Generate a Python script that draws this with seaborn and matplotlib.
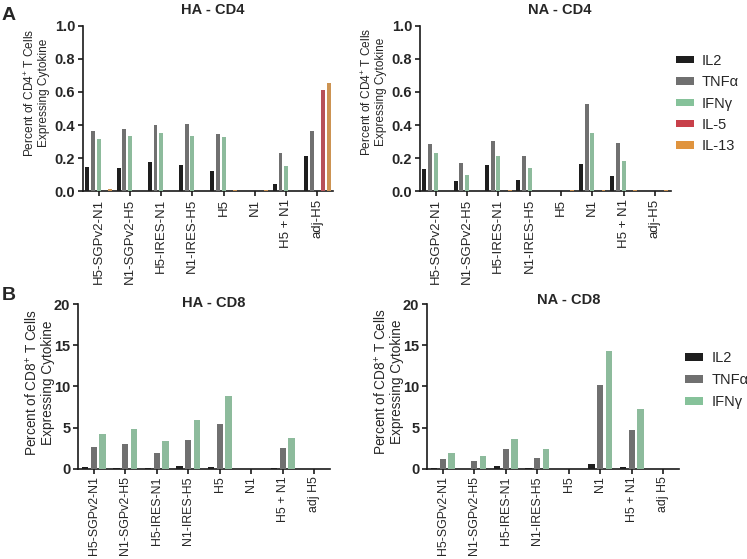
import numpy as np
import pandas as pd
import matplotlib
matplotlib.use("Agg")
import matplotlib.pyplot as plt
import seaborn as sns
from matplotlib.patches import Patch

# ---------------- data ----------------
groups_cd4 = ["H5-SGPv2-N1", "N1-SGPv2-H5", "H5-IRES-N1", "N1-IRES-H5", "H5", "N1", "H5 + N1", "adj-H5"]
groups_cd8 = ["H5-SGPv2-N1", "N1-SGPv2-H5", "H5-IRES-N1", "N1-IRES-H5", "H5", "N1", "H5 + N1", "adj H5"]
cyt_cd4 = ["IL2", "TNFα", "IFNγ", "IL-5", "IL-13"]
cyt_cd8 = ["IL2", "TNFα", "IFNγ"]

ha_cd4_il2 = [0.147, 0.143, 0.179, 0.159, 0.121, 0.0, 0.042, 0.213]
ha_cd4_tnfa = [0.364, 0.376, 0.398, 0.404, 0.348, 0.0, 0.231, 0.364]
ha_cd4_ifng = [0.318, 0.334, 0.350, 0.334, 0.330, 0.0, 0.153, 0.0]
ha_cd4_il5 = [0.0, 0.0, 0.0, 0.0, 0.0, 0.0, 0.0, 0.612]
ha_cd4_il13 = [0.012, 0.0, 0.0, 0.0, 0.008, 0.010, 0.0, 0.656]

na_cd4_il2 = [0.133, 0.060, 0.161, 0.068, 0.0, 0.163, 0.095, 0.0]
na_cd4_tnfa = [0.286, 0.171, 0.304, 0.213, 0.0, 0.529, 0.292, 0.0]
na_cd4_ifng = [0.233, 0.097, 0.211, 0.143, 0.0, 0.350, 0.181, 0.0]
na_cd4_il5 = [0.0, 0.0, 0.0, 0.0, 0.0, 0.0, 0.0, 0.0]
na_cd4_il13 = [0.0, 0.0, 0.005, 0.0, 0.008, 0.006, 0.006, 0.008]

ha_cd8_il2 = [0.16, 0.08, 0.04, 0.28, 0.16, 0.0, 0.08, 0.0]
ha_cd8_tnfa = [2.6, 2.95, 1.94, 3.44, 5.38, 0.0, 2.47, 0.0]
ha_cd8_ifng = [4.2, 4.78, 3.4, 5.87, 8.87, 0.0, 3.68, 0.0]

na_cd8_il2 = [0.04, 0.0, 0.28, 0.04, 0.0, 0.53, 0.24, 0.0]
na_cd8_tnfa = [1.17, 0.97, 2.35, 1.3, 0.0, 10.16, 4.7, 0.0]
na_cd8_ifng = [1.9, 1.58, 3.56, 2.35, 0.0, 14.25, 7.25, 0.0]

colors = {"IL2": "#1e1e1e", "TNFα": "#707070", "IFNγ": "#86c29a",
          "IL-5": "#c8404a", "IL-13": "#e0943e"}


def long_df(groups, cyts, series):
    rows = []
    for c, vals in zip(cyts, series):
        for g, v in zip(groups, vals):
            rows.append({"group": g, "cytokine": c, "value": v})
    return pd.DataFrame(rows)


df_ha_cd4 = long_df(groups_cd4, cyt_cd4, [ha_cd4_il2, ha_cd4_tnfa, ha_cd4_ifng, ha_cd4_il5, ha_cd4_il13])
df_na_cd4 = long_df(groups_cd4, cyt_cd4, [na_cd4_il2, na_cd4_tnfa, na_cd4_ifng, na_cd4_il5, na_cd4_il13])
df_ha_cd8 = long_df(groups_cd8, cyt_cd8, [ha_cd8_il2, ha_cd8_tnfa, ha_cd8_ifng])
df_na_cd8 = long_df(groups_cd8, cyt_cd8, [na_cd8_il2, na_cd8_tnfa, na_cd8_ifng])

# ---------------- style ----------------
sns.set_theme(style="ticks")
plt.rcParams["font.family"] = ["Liberation Sans", "DejaVu Sans"]
plt.rcParams["mathtext.fontset"] = "custom"
plt.rcParams["mathtext.rm"] = "Liberation Sans"
plt.rcParams["mathtext.it"] = "Liberation Sans"

W, H = 747, 559
fig = plt.figure(figsize=(W / 100, H / 100), dpi=100)


def px_axes(left, right, top, bottom):
    return fig.add_axes([left / W, 1 - bottom / H, (right - left) / W, (bottom - top) / H])


def draw(ax, df, groups, cyts, ymax, yticks, yfmt, width, gap, xfs):
    sns.barplot(data=df, x="group", y="value", hue="cytokine", order=groups,
                hue_order=cyts, palette=colors, errorbar=None, width=width,
                gap=gap, linewidth=0, legend=False, ax=ax, zorder=3)
    ax.set_xlim(-0.5, 7.5)
    ax.set_ylim(0, ymax)
    ax.set_yticks(yticks)
    ax.set_yticklabels([yfmt.format(t) for t in yticks], fontweight="bold", fontsize=10.5)
    ax.set_xticks(range(len(groups)))
    ax.set_xticklabels(groups, rotation=90, fontsize=xfs)
    ax.set_xlabel("")
    ax.set_ylabel("")
    for s in ["top", "right"]:
        ax.spines[s].set_visible(False)
    for s in ["left", "bottom"]:
        ax.spines[s].set_linewidth(1.2)
        ax.spines[s].set_color("#1a1a1a")
        ax.spines[s].set_zorder(2)
    ax.tick_params(axis="both", direction="out", length=3.5, width=1.2, color="#1a1a1a", pad=2)
    ax.set_facecolor("white")


ax1 = px_axes(83, 333, 25.7, 191.3)
draw(ax1, df_ha_cd4, groups_cd4, cyt_cd4, 1.0, [0, 0.2, 0.4, 0.6, 0.8, 1.0], "{:.1f}", 0.9, 0.3, 9.5)
ax2 = px_axes(420, 670.5, 25.7, 191.3)
draw(ax2, df_na_cd4, groups_cd4, cyt_cd4, 1.0, [0, 0.2, 0.4, 0.6, 0.8, 1.0], "{:.1f}", 0.9, 0.3, 9.5)
ax3 = px_axes(78, 330, 304, 468.7)
draw(ax3, df_ha_cd8, groups_cd8, cyt_cd8, 20, [0, 5, 10, 15, 20], "{:d}", 0.83, 0.3, 8.9)
ax4 = px_axes(427, 679, 304, 468.7)
draw(ax4, df_na_cd8, groups_cd8, cyt_cd8, 20, [0, 5, 10, 15, 20], "{:d}", 0.83, 0.3, 8.9)


def ftext(x, y, s, **kw):
    fig.text(x / W, 1 - y / H, s, **kw)


# titles
ftext(213, 10, "HA - CD4", ha="center", va="center", fontsize=10.5, fontweight="bold")
ftext(560, 10, "NA - CD4", ha="center", va="center", fontsize=10.5, fontweight="bold")
ftext(214, 303, "HA - CD8", ha="center", va="center", fontsize=10.5, fontweight="bold")
ftext(569, 300, "NA - CD8", ha="center", va="center", fontsize=10.5, fontweight="bold")

# panel letters
ftext(9, 15, "A", ha="center", va="center", fontsize=14, fontweight="bold")
ftext(9, 295, "B", ha="center", va="center", fontsize=14, fontweight="bold")

# y labels
lab4 = "Percent of CD4$^{+}$ T Cells\nExpressing Cytokine"
lab8 = "Percent of CD8$^{+}$ T Cells\nExpressing Cytokine"
ftext(37, 93, lab4, rotation=90, ha="center", va="center", fontsize=8.6, linespacing=1.1)
ftext(374, 92, lab4, rotation=90, ha="center", va="center", fontsize=8.6, linespacing=1.1)
ftext(39, 383, lab8, rotation=90, ha="center", va="center", fontsize=9.8, linespacing=1.1)
ftext(388, 382, lab8, rotation=90, ha="center", va="center", fontsize=9.8, linespacing=1.1)

# legends
h4 = [Patch(facecolor=colors[c], edgecolor="none", label=c) for c in cyt_cd4]
fig.legend(handles=h4, loc="upper left", bbox_to_anchor=(676 / W, 1 - 54 / H),
           frameon=False, fontsize=10.5, handlelength=1.25, handleheight=0.4,
           labelspacing=0.5, handletextpad=0.5, borderpad=0, borderaxespad=0)
h8 = [Patch(facecolor=colors[c], edgecolor="none", label=c) for c in cyt_cd8]
fig.legend(handles=h8, loc="upper left", bbox_to_anchor=(685 / W, 1 - 351 / H),
           frameon=False, fontsize=10.5, handlelength=1.25, handleheight=0.5,
           labelspacing=0.55, handletextpad=0.55, borderpad=0, borderaxespad=0)

fig.savefig("out.png", dpi=100, facecolor="white")
